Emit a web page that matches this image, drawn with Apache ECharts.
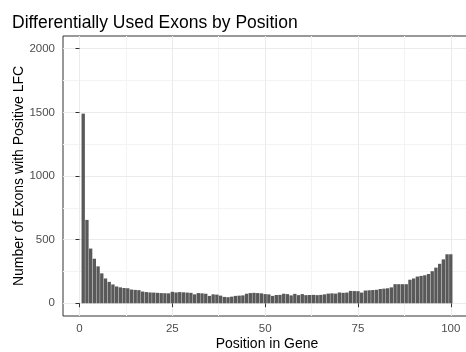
<!DOCTYPE html>
<html>
<head>
<meta charset="utf-8">
<script src="https://cdn.jsdelivr.net/npm/echarts@6/dist/echarts.min.js"></script>
<style>html,body{margin:0;padding:0;background:#fff}#c{width:466px;height:352px}</style>
</head>
<body>
<div id="c"></div>
<script>
const positions = Array.from({length: 100}, (_, i) => i + 1);
const counts = [
  1490, 655, 430, 350, 290, 235, 195, 168, 148, 132,
  125, 120, 118, 108, 105, 103, 92, 88, 85, 84,
  82, 80, 79, 78, 90, 85, 88, 86, 84, 82,
  70, 80, 78, 75, 58, 70, 68, 60, 50, 48,
  52, 58, 60, 62, 75, 80, 82, 80, 78, 72,
  70, 58, 65, 66, 75, 72, 62, 74, 64, 72,
  64, 65, 66, 64, 66, 70, 76, 78, 76, 85,
  82, 84, 97, 96, 95, 84, 100, 102, 104, 106,
  112, 115, 118, 125, 150, 150, 150, 150, 185, 195,
  210, 215, 220, 230, 252, 280, 310, 345, 385, 385
];
const xTicks = [0, 25, 50, 75, 100];
const xMinor = [12.5, 37.5, 62.5, 87.5];
const yTicks = [0, 500, 1000, 1500, 2000];
const yMinor = [250, 750, 1250, 1750];
const titleText = 'Differentially Used Exons by Position';
const xTitle = 'Position in Gene';
const yTitle = 'Number of Exons with Positive LFC';

const FONT = 'Liberation Sans, Arial, sans-serif';
const X_MIN = -4.445, X_MAX = 105.445, Y_MIN = -100, Y_MAX = 2100;
const plain = v => String(v);

const chart = echarts.init(document.getElementById('c'), null, {renderer: 'canvas'});
chart.setOption({
  animation: false,
  title: {text: titleText, left: 7, top: 9, textStyle: {fontFamily: FONT, fontSize: 17.5, fontWeight: 'normal', color: '#000'}},
  grid: {left: 63, right: -5, top: 36, bottom: 36, outerBoundsMode: 'none', containLabel: false,
         show: true, borderColor: '#333333', borderWidth: 1, backgroundColor: 'transparent'},
  xAxis: [
    {type: 'value', min: X_MIN, max: X_MAX, gridIndex: 0,
     axisLine: {show: false},
     axisTick: {show: true, length: 4, customValues: xTicks, lineStyle: {color: '#333333'}},
     axisLabel: {customValues: xTicks, formatter: plain, margin: 7, fontFamily: FONT, fontSize: 11.5, color: '#4d4d4d'},
     splitLine: {show: true, lineStyle: {color: '#ebebeb', width: 1}},
     name: xTitle, nameLocation: 'middle', nameGap: 21, nameMoveOverlap: false,
     nameTextStyle: {fontFamily: FONT, fontSize: 14, color: '#000'}, z: 2},
    {type: 'value', min: X_MIN, max: X_MAX, gridIndex: 0, position: 'bottom',
     axisLine: {show: false}, axisTick: {show: false, customValues: xMinor}, axisLabel: {show: false, customValues: xMinor},
     splitLine: {show: true, lineStyle: {color: '#f3f3f3', width: 1}}, z: 1}
  ],
  yAxis: [
    {type: 'value', min: Y_MIN, max: Y_MAX,
     axisLine: {show: false},
     axisTick: {show: true, length: 4, customValues: yTicks, lineStyle: {color: '#333333'}},
     axisLabel: {customValues: yTicks, formatter: plain, margin: 8, fontFamily: FONT, fontSize: 11.5, color: '#4d4d4d'},
     splitLine: {show: true, lineStyle: {color: '#ebebeb', width: 1}},
     name: yTitle, nameLocation: 'middle', nameGap: 37, nameRotate: 90, nameMoveOverlap: false,
     nameTextStyle: {fontFamily: FONT, fontSize: 14, color: '#000'}, z: 2},
    {type: 'value', min: Y_MIN, max: Y_MAX, position: 'left',
     axisLine: {show: false}, axisTick: {show: false, customValues: yMinor}, axisLabel: {show: false, customValues: yMinor},
     splitLine: {show: true, lineStyle: {color: '#f3f3f3', width: 1}}, z: 1}
  ],
  series: [{
    type: 'bar', xAxisIndex: 0, yAxisIndex: 0,
    data: positions.map((p, i) => [p, counts[i]]),
    barWidth: 3.35,
    itemStyle: {color: '#595959'},
    z: 5
  }]
});
</script>
</body>
</html>
